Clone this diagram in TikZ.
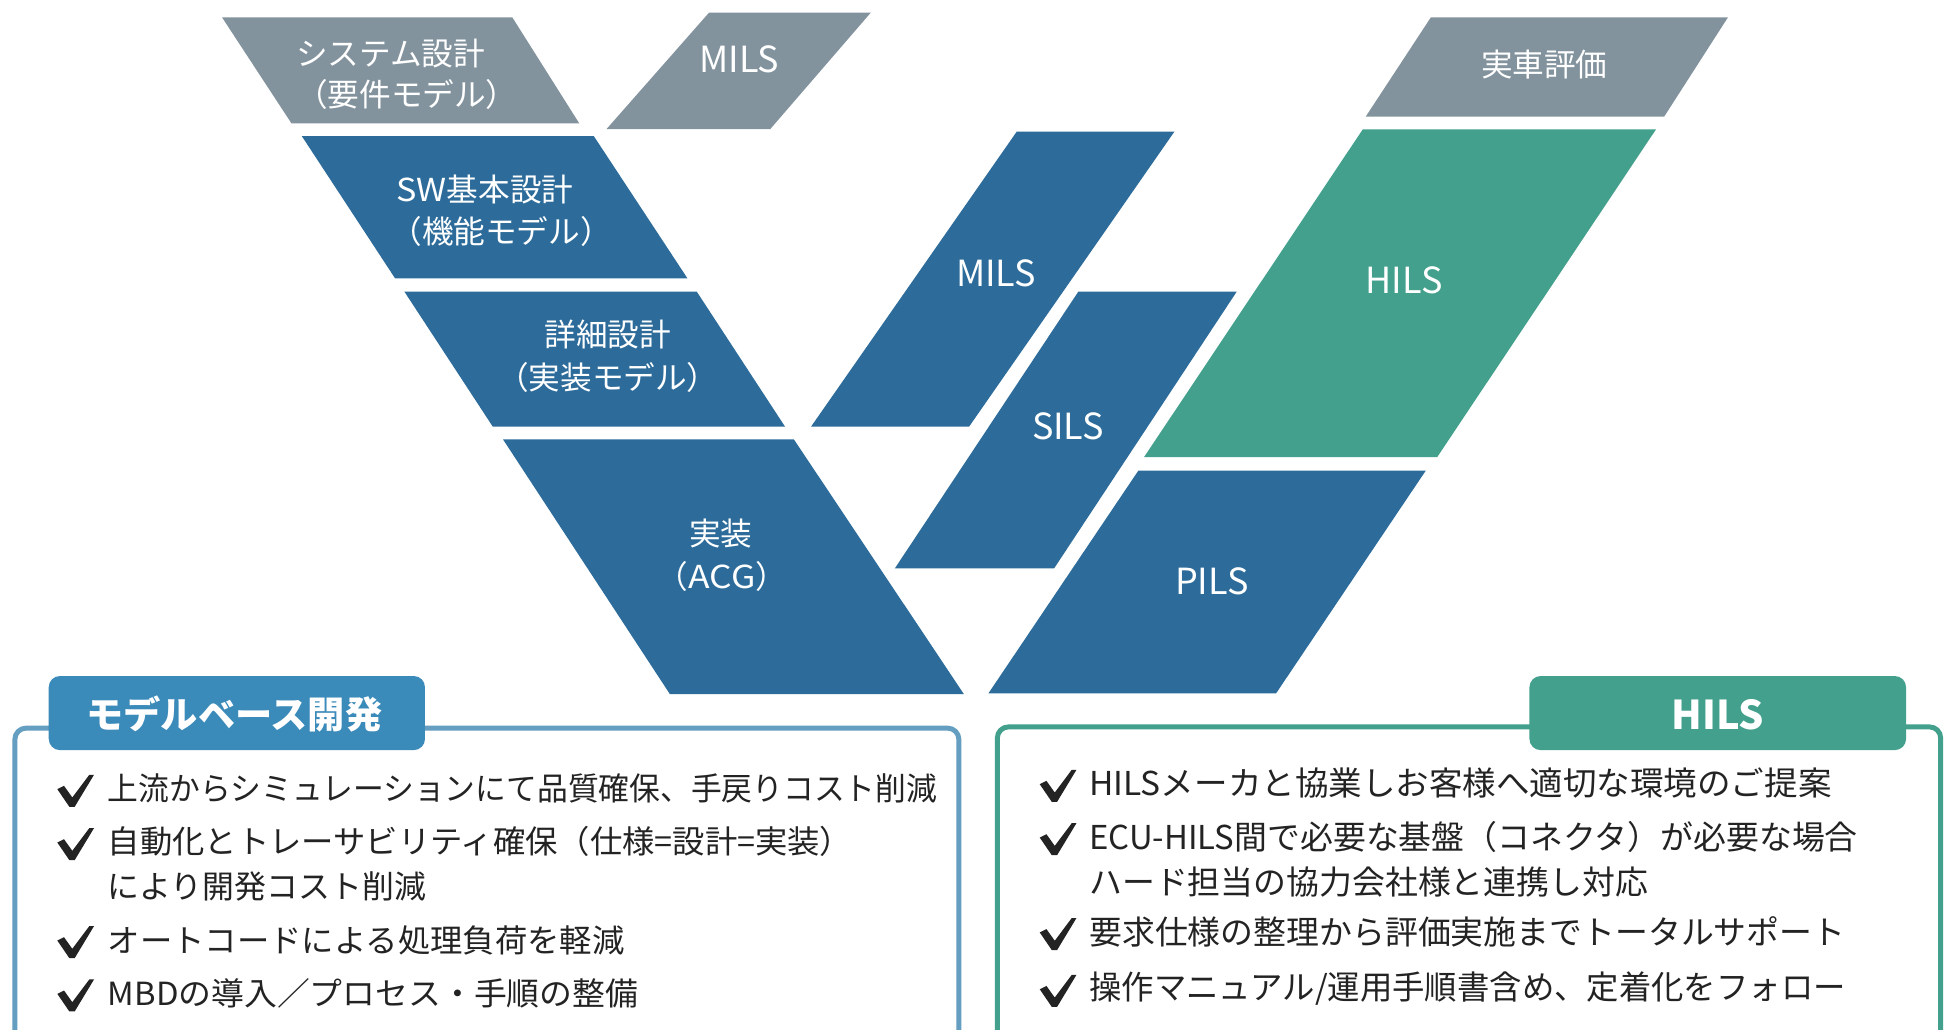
\documentclass[tikz,border=0pt]{standalone}
\usepackage{graphicx}
\usepackage{fontspec}
\setmainfont{Noto Sans CJK JP}
\definecolor{vgray}{RGB}{131,147,158}
\definecolor{vblue}{RGB}{45,108,154}
\definecolor{vgreen}{RGB}{66,160,140}
\definecolor{tabblue}{RGB}{58,138,186}
\definecolor{panelblue}{RGB}{100,158,192}
\definecolor{textc}{RGB}{35,35,35}
\newcommand\mybody{\fontsize{25.7}{30}\selectfont}
\newcommand\mybodyr{\fontsize{26.5}{30}\selectfont}
\newcommand\mylabel{\fontsize{25.5}{30}\selectfont}
\newcommand\mylatin{\fontsize{29}{32}\selectfont}
\newcommand\mytab{\fontsize{30}{34}\selectfont\bfseries}
\begin{document}
\begin{tikzpicture}[x=1pt,y=-1pt,
  lbl/.style={text=white, font=\mylabel, inner sep=0pt, anchor=center},
  lat/.style={text=white, font=\mylatin, inner sep=0pt, anchor=center},
  body/.style={text=textc, font=\mybody, inner sep=0pt, anchor=west},
  bodyr/.style={text=textc, font=\mybodyr, inner sep=0pt, anchor=west},
  tabtext/.style={text=white, font=\mytab, inner sep=0pt, anchor=center},
  chk/.pic={\fill[textc] (-14.8,-1.3) -- (-9.4,-4.0) -- (-2.7,5.4) -- (11.0,-12.9) -- (14.8,-12.9) -- (-0.8,12.9) -- (-5.1,12.9) -- cycle;}
]
\useasboundingbox (0,0) rectangle (1568,830);
\fill[white] (0,0) rectangle (1568,830);
\begin{scope}
\clip (0,0) rectangle (1568,830);
% gray boxes
\fill[vgray] (179,14) -- (413,14) -- (467,99.5) -- (235,99.5) -- cycle;
\fill[vgray] (571.6,10.2) -- (702,10.2) -- (621,104) -- (489,104) -- cycle;
\fill[vgray] (1153.5,14) -- (1393,14) -- (1341.6,94) -- (1101,94) -- cycle;
% left blue
\fill[vblue] (243.3,109.7) -- (478.7,109.7) -- (554.2,224.4) -- (318.5,224.4) -- cycle;
\fill[vblue] (326,235.1) -- (561.7,235.1) -- (632.9,344) -- (397.3,344) -- cycle;
\fill[vblue] (405.5,354.2) -- (640,354.2) -- (777,559.5) -- (540,559.5) -- cycle;
% right blue
\fill[vblue] (819.6,106.2) -- (946.7,106.2) -- (781.2,344) -- (653.8,344) -- cycle;
\fill[vblue] (869.3,235.1) -- (997,235.1) -- (849.8,458.2) -- (721.4,458.2) -- cycle;
\fill[vgreen] (1098.6,104.3) -- (1335,104.3) -- (1158.6,368.5) -- (922.3,368.5) -- cycle;
\fill[vblue] (917.7,379.4) -- (1149.4,379.4) -- (1028.7,559) -- (796.8,559) -- cycle;
% labels
\node[lbl] (sys1) at (315,43) {システム設計};
\node[lbl] (sys2) at (328,76) {（要件モデル）};
\node[lat] (milsg) at (596,48) {MILS};
\node[lbl] (jissha) at (1245,52) {実車評価};
\node[lbl] (sw1) at (391,153) {\scalebox{1.08}[1]{SW}基本設計};
\node[lbl] (sw2) at (404,187) {（機能モデル）};
\node[lbl] (sh1) at (490,270) {詳細設計};
\node[lbl] (sh2) at (490,304) {（実装モデル）};
\node[lbl] (js1) at (581,430) {実装};
\node[lbl] (js2) at (582,465) {（\scalebox{1.12}[1]{ACG}）};
\node[lat] (milsb) at (803,220) {MILS};
\node[lat] (sils) at (861,344) {SILS};
\node[lat] (hils) at (1132,226) {HILS};
\node[lat] (pils) at (977,469) {PILS};
% panels
\draw[panelblue, line width=4pt, rounded corners=9pt] (12,840) -- (12,587) -- (773,587) -- (773,840);
\draw[vgreen, line width=4pt, rounded corners=9pt] (804,840) -- (804,586) -- (1564.5,586) -- (1564.5,840);
\fill[tabblue, rounded corners=9pt] (39.3,545) rectangle (342.6,604.7);
\fill[vgreen, rounded corners=9pt] (1233,545) rectangle (1536.6,604.7);
\node[tabtext] (tabL) at (189,576) {モデルベース開発};
\node[tabtext, font=\fontsize{32}{34}\selectfont\bfseries] (tabR) at (1385,576) {HILS};
% left list
\pic at (61,637.5) {chk};
\pic at (61,680.5) {chk};
\pic at (61,759.5) {chk};
\pic at (61,802.5) {chk};
\node[body] (l1) at (86.7,635.6) {\scalebox{0.965}[1]{上流からシミュレーションにて品質確保、手戻りコスト削減}};
\node[body] (l2) at (86.7,678.5) {\scalebox{1.014}[1]{自動化とトレーサビリティ確保（仕様=設計=実装）}};
\node[body] (l2b) at (86.7,714.8) {により開発コスト削減};
\node[body] (l3) at (86.7,757.8) {\scalebox{1.015}[1]{オートコードによる処理負荷を軽減}};
\node[body] (l4) at (86.7,800.8) {\scalebox{1.03}[1]{MBDの導入／プロセス・手順の整備}};
% right list
\pic at (853,633.5) {chk};
\pic at (853,676.5) {chk};
\pic at (853,753) {chk};
\pic at (853,798.8) {chk};
\node[bodyr] (r1) at (878,631.5) {\scalebox{1.02}[1]{HILSメーカと協業しお客様へ適切な環境のご提案}};
\node[bodyr] (r2) at (878,674.5) {ECU-HILS間で必要な基盤（コネクタ）が必要な場合};
\node[bodyr] (r2b) at (878,710.8) {ハード担当の協力会社様と連携し対応};
\node[bodyr] (r3) at (878,751) {要求仕様の整理から評価実施までトータルサポート};
\node[bodyr] (r4) at (878,796.8) {\scalebox{0.985}[1]{操作マニュアル/運用手順書含め、定着化をフォロー}};
\end{scope}
\end{tikzpicture}
\end{document}
